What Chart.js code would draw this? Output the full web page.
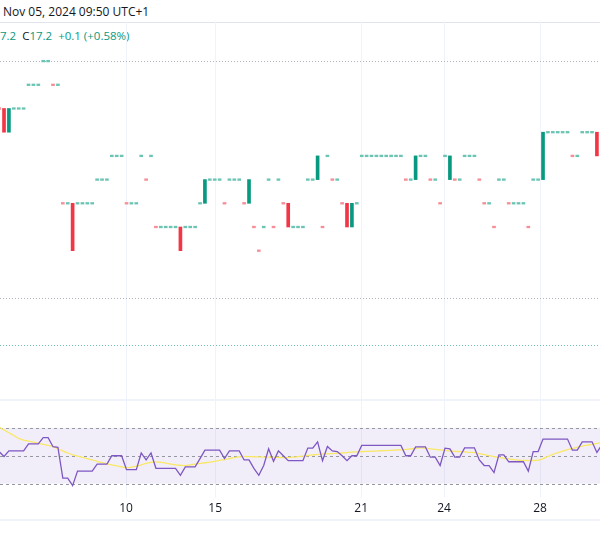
<!DOCTYPE html>
<html><head><meta charset="utf-8">
<script src="https://cdn.jsdelivr.net/npm/chart.js@4"></script>
<style>
html,body{margin:0;padding:0;background:#fff;width:600px;height:550px;overflow:hidden;font-family:"Open Sans",Roboto,sans-serif;}
#hdr{position:absolute;left:3px;top:3px;font-size:12px;color:#131722;}
#sep{position:absolute;left:0;top:22px;width:600px;height:1px;background:#e0e3eb;}
#ohlc{position:absolute;left:0;top:28px;font-size:11.5px;color:#089981;}
#ohlc .k{color:#131722;}
#c1{position:absolute;left:0;top:22px;}
#c2{position:absolute;left:0;top:400px;}
#p1{position:absolute;left:0;top:399px;width:600px;height:2px;background:#f0f3fa;}
#p2{position:absolute;left:0;top:519px;width:600px;height:2px;background:#f0f3fa;}
</style></head><body>
<div id="hdr">Nov 05, 2024 09:50 UTC+1</div>
<div id="sep"></div>
<div id="ohlc">7.2&nbsp;&nbsp;<span class="k">C</span>17.2&nbsp;&nbsp;+0.1 (+0.58%)</div>
<canvas id="c1" width="600" height="378"></canvas>
<div id="p1"></div>
<canvas id="c2" width="600" height="120"></canvas>
<div id="p2"></div>
<script>
// bar index starts at -1
const opens = [17.8,17.8,17.7,17.8,17.8,17.8,17.9,17.9,17.9,18.0,18.0,17.9,17.9,17.4,17.4,17.4,17.4,17.4,17.4,17.4,17.5,17.5,17.5,17.6,17.6,17.6,17.4,17.4,17.4,17.6,17.5,17.6,17.3,17.3,17.3,17.3,17.3,17.3,17.3,17.3,17.3,17.4,17.4,17.5,17.5,17.5,17.4,17.5,17.5,17.5,17.4,17.4,17.3,17.2,17.3,17.5,17.3,17.5,17.4,17.4,17.3,17.3,17.3,17.5,17.5,17.5,17.3,17.6,17.5,17.5,17.4,17.4,17.3,17.4,17.6,17.6,17.6,17.6,17.6,17.6,17.6,17.6,17.6,17.5,17.5,17.5,17.6,17.6,17.5,17.5,17.4,17.6,17.5,17.5,17.5,17.6,17.6,17.6,17.5,17.4,17.4,17.3,17.5,17.5,17.4,17.4,17.4,17.4,17.3,17.5,17.5,17.5,17.7,17.7,17.7,17.7,17.7,17.6,17.6,17.7,17.7,17.7,17.7,17.7];
const closes = [17.8,17.7,17.8,17.8,17.8,17.8,17.9,17.9,17.9,18.0,18.0,17.9,17.9,17.4,17.4,17.2,17.4,17.4,17.4,17.4,17.5,17.5,17.5,17.6,17.6,17.6,17.4,17.4,17.4,17.6,17.5,17.6,17.3,17.3,17.3,17.3,17.3,17.2,17.3,17.3,17.3,17.4,17.5,17.5,17.5,17.5,17.4,17.5,17.5,17.5,17.4,17.5,17.3,17.2,17.3,17.5,17.3,17.5,17.4,17.3,17.3,17.3,17.3,17.5,17.5,17.6,17.3,17.6,17.5,17.5,17.4,17.3,17.4,17.4,17.6,17.6,17.6,17.6,17.6,17.6,17.6,17.6,17.6,17.5,17.5,17.6,17.6,17.6,17.5,17.5,17.4,17.6,17.6,17.5,17.5,17.6,17.6,17.6,17.5,17.4,17.4,17.3,17.5,17.5,17.4,17.4,17.4,17.4,17.3,17.5,17.5,17.7,17.7,17.7,17.7,17.7,17.7,17.6,17.6,17.7,17.7,17.7,17.6,17.7];
const rsi = [53,49.5,53.5,53.5,53.5,53.5,58.5,58.5,58.5,63,63,56.5,56,34,34,28.6,39,39,39,39,44,44,44,50,50,50,40,40,40,52,47,52,41,41,41,41,41,36,42,42,42,48,54,54,54,54,48,53.5,53.5,53.5,47,47,41,36,43,55,46,53.5,50,46.5,46.5,46.5,46.5,55.5,55.5,60,46.5,56.7,53.5,53,50,46.5,50,50,57.4,57.4,57.4,57.4,57.4,57.4,57.4,57.4,57.4,50,50,56.4,56.4,56.4,49,49,43,55.5,55,49,49,55.7,55.7,55.7,47,43,43,38,50.7,50.7,45.7,45.7,45.7,45.7,39,53,53,62,62,62,62,62,62,54,54,60,60,60,52.4,57.7];
const rsiMa = [70.5,68.5,66.5,64.5,62.5,61.3,60.5,59.8,59,58.2,57.4,56.5,55,53.5,52,50.7,49.8,48.8,47.9,47,46,45,44.2,43.5,42.7,42,41.4,41.8,42.5,43.5,44.5,45.2,45.6,45.3,44.8,44,43.5,43.2,43,43.5,44,44.5,45,45.4,46,46.7,47.3,48,48.7,49.2,49.5,49.4,49.3,49.2,49.1,49,48.9,48.8,48.7,48.7,49,49.4,49.8,50.2,50.6,51,51.3,51.4,51.6,51.8,52,52.3,52.6,52.8,53,53.1,53.3,53.4,53.6,53.7,53.9,54.1,54.3,54.6,55,55.3,55.6,55.4,55,54.6,54.2,53.9,53.5,53.2,53,52.8,52.5,52.3,51.6,50.8,50.1,49.4,48.8,48.2,47.7,47.2,46.9,46.7,46.6,46.6,46.8,48,49.5,51,52.2,53.3,54.4,55.2,56,56.9,57.6,58.2,58.9,59.5];
const tickPos = [24.9,43.1,72.9,89.8,109.4];
const tickLabels = ['10','15','21','24','28'];
const refLevels = [18.0,17.0,16.8];
const rsiLevels = [70,50,30];

const UP='#089981', DN='#F23645', UPL='#6cc5b4', DNL='#f68d97';
const X0=-1;
const bars = opens.map((o,k)=>{
  const c=closes[k]; let lo=Math.min(o,c), hi=Math.max(o,c);
  const doji = o===c;
  if(doji){lo=o-0.0035;hi=o+0.0035;}
  let up = c>o || (doji && k>0 && c>=closes[k-1]);
  return {x:k+X0,y:[lo,hi],up,doji};
});
const xMin=-0.82, xMax=121.63;
const xScale=(show)=>({type:'linear',min:xMin,max:xMax,offset:false,
  afterBuildTicks:s=>{s.ticks=tickPos.map(v=>({value:v}));},
  grid:{color:'rgba(0,0,0,0)',drawTicks:false},border:{display:false},
  ticks:{display:show,autoSkip:false,maxRotation:0,padding:4,color:'#131722',font:{size:12,family:'"Open Sans",Roboto,sans-serif'},
    callback:(v)=>{const i=tickPos.indexOf(v);return i>=0?tickLabels[i]:'';}}});
const vgrid={id:'vg',beforeDatasetsDraw(ch){const g=ch.ctx,x=ch.scales.x,a=ch.chartArea;
  g.save();g.strokeStyle='#f0f3fa';g.lineWidth=1;
  tickPos.forEach(v=>{const p=Math.round(x.getPixelForValue(v))+0.5;g.beginPath();g.moveTo(p,a.top);g.lineTo(p,a.bottom);g.stroke();});
  g.restore();}};

new Chart(document.getElementById('c1'),{
  type:'bar',
  data:{datasets:[{data:bars,barThickness:3,
    backgroundColor:c=>{const r=c.raw;if(!r)return UP;return r.doji?(r.up?UPL:DNL):(r.up?UP:DN);},borderWidth:0}]},
  options:{responsive:false,animation:false,layout:{padding:0},
    plugins:{legend:{display:false},tooltip:{enabled:false}},
    scales:{x:xScale(false),y:{display:false,min:16.57,max:18.165}}},
  plugins:[vgrid,{id:'lv',beforeDatasetsDraw(ch){const g=ch.ctx,y=ch.scales.y;
    g.save();g.lineWidth=1;g.setLineDash([1,2]);
    refLevels.forEach((v,i)=>{const p=Math.round(y.getPixelForValue(v))+0.5;
      g.strokeStyle=i===2?'#6cc5b4':'#b2b5be';g.beginPath();g.moveTo(0,p);g.lineTo(600,p);g.stroke();});
    g.restore();}}]
});

new Chart(document.getElementById('c2'),{
  type:'line',
  data:{datasets:[
    {data:rsi.map((v,k)=>({x:k+X0,y:v})),borderColor:'#7E57C2',borderWidth:1.3,pointRadius:0,tension:0},
    {data:rsiMa.map((v,k)=>({x:k+X0,y:v})),borderColor:'#F9E866',borderWidth:1.3,pointRadius:0,tension:0.3}]},
  options:{responsive:false,animation:false,layout:{padding:0},
    plugins:{legend:{display:false},tooltip:{enabled:false}},
    scales:{x:xScale(true),y:{display:false,min:20,max:90}}},
  plugins:[vgrid,{id:'band',beforeDatasetsDraw(ch){const g=ch.ctx,y=ch.scales.y;
    const t=y.getPixelForValue(rsiLevels[0]),b=y.getPixelForValue(rsiLevels[2]);
    g.save();g.fillStyle='rgba(126,87,194,0.1)';g.fillRect(0,t,600,b-t);
    g.strokeStyle='#9598a1';g.lineWidth=1;g.setLineDash([3,3]);
    rsiLevels.forEach(v=>{const p=Math.round(y.getPixelForValue(v))+0.5;g.beginPath();g.moveTo(0,p);g.lineTo(600,p);g.stroke();});
    g.restore();}}]
});
</script></body></html>
